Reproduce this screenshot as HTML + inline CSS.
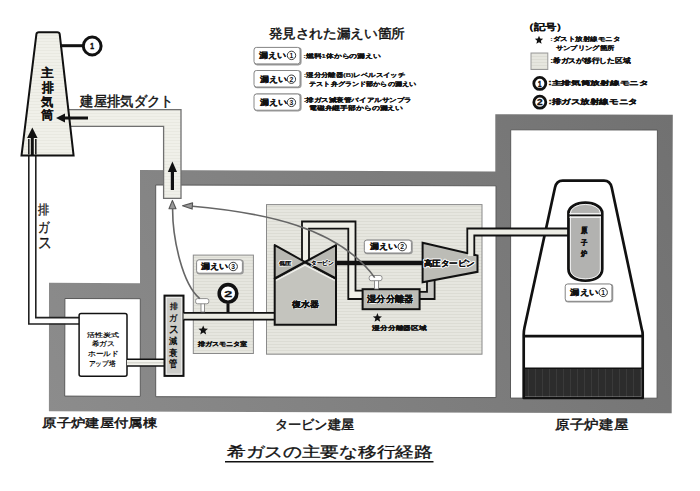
<!DOCTYPE html>
<html lang="ja">
<head>
<meta charset="utf-8">
<style>
html,body{margin:0;padding:0;background:#fff;}
body{width:700px;height:491px;overflow:hidden;position:relative;font-family:"Liberation Sans",sans-serif;}
svg{position:absolute;left:0;top:0;}
svg text{font-family:"Liberation Sans",sans-serif;fill:#111;}
</style>
</head>
<body>
<svg width="700" height="491" viewBox="0 0 700 491">
<defs>
  <linearGradient id="wg" gradientUnits="userSpaceOnUse" x1="672" y1="115" x2="49" y2="412">
    <stop offset="0" stop-color="#717171"/>
    <stop offset="1" stop-color="#8c8c8c"/>
  </linearGradient>
  <pattern id="hl" width="4" height="3" patternUnits="userSpaceOnUse">
    <rect width="4" height="3" fill="#e6e6df"/>
    <rect y="2" width="4" height="1" fill="#dcdcd4"/>
  </pattern>
  <pattern id="hl2" width="4" height="3" patternUnits="userSpaceOnUse">
    <rect width="4" height="3" fill="#f0f0e9"/>
    <rect y="2" width="4" height="1" fill="#e9e9e1"/>
  </pattern>
  <pattern id="dk" width="7" height="4" patternUnits="userSpaceOnUse">
    <rect width="7" height="4" fill="#2c2c2c"/>
    <rect x="3" width="1" height="4" fill="#3a3a3a"/>
  </pattern>
</defs>

<!-- ===== building walls ===== -->
<path d="M49 282.8 L140 283.2 L140 170 L495.3 171.6 L495.3 114.3 L672.8 114.8 L671.7 413.3 L48.9 411.3 Z" fill="url(#wg)"/>
<g fill="#fff" stroke="#5a5a5a" stroke-width="1">
  <path d="M64.9 298.5 L140.3 298.7 L140.3 396.4 L64.7 396.1 Z"/>
  <path d="M155.7 185 L496 185.8 L496 397.6 L155.7 396.7 Z"/>
  <path d="M510.7 129.8 L657.4 130 L657.1 398.2 L510.5 398.1 Z"/>
</g>

<!-- ===== duct ===== -->
<path d="M66 109.7 H181 V198.3 H163.6 V126.4 H66 Z" fill="url(#hl2)" stroke="#707070" stroke-width="1.3"/>

<!-- ===== exhaust pipe (排ガス) ===== -->
<rect x="29" y="317.5" width="50.5" height="6.2" fill="#fff"/>
<path d="M28.8 139 V324 H79.5" fill="none" stroke="#222" stroke-width="1.6"/>
<path d="M35.8 139 V317.6 H79.5" fill="none" stroke="#222" stroke-width="1.6"/>

<!-- ===== chimney ===== -->
<path d="M21.5 155.6 L36.4 34.2 Q36.7 32.2 38.9 32.2 L57.3 32.2 Q59.4 32.2 59.7 34.2 L73.6 155.6 Z" fill="url(#hl2)" stroke="#111" stroke-width="2"/>
<path d="M28.8 139 V154.5 M35.8 139 V154.5" stroke="#222" stroke-width="1.6"/>
<line x1="60" y1="45.7" x2="83" y2="45.7" stroke="#111" stroke-width="3"/>
<circle cx="92.2" cy="46" r="8.9" fill="#fff" stroke="#111" stroke-width="3"/>

<!-- left arrow into chimney -->
<line x1="88" y1="118" x2="62" y2="118" stroke="#111" stroke-width="3"/>
<path d="M56 118 L65 113.5 L65 122.5 Z" fill="#111"/>
<!-- up arrow in duct -->
<line x1="172.4" y1="190" x2="172.4" y2="168" stroke="#111" stroke-width="3.2"/>
<path d="M172.4 161.5 L177 172 L167.8 172 Z" fill="#111"/>
<!-- up arrow in chimney -->
<line x1="32.3" y1="156" x2="32.3" y2="135" stroke="#111" stroke-width="3"/>
<path d="M32.3 127.5 L37.6 138 L27.1 138 Z" fill="#111"/>

<!-- ===== aux building contents ===== -->
<rect x="79.1" y="313.6" width="47.9" height="62.6" rx="2" fill="#fff" stroke="#111" stroke-width="1.5"/>
<!-- pipe holdup -> decay -->
<rect x="127" y="359.3" width="38" height="6.8" fill="#f4f4ee"/>
<line x1="127" y1="362.7" x2="165" y2="362.7" stroke="#d8d8d0" stroke-width="1.5"/>
<line x1="127" y1="359.3" x2="165" y2="359.3" stroke="#111" stroke-width="1.5"/>
<line x1="127" y1="366.1" x2="165" y2="366.1" stroke="#111" stroke-width="1.5"/>

<!-- decay tube -->
<rect x="164.5" y="295.6" width="19" height="80.3" fill="#cdcdc9" stroke="#111" stroke-width="2"/>
<rect x="166.3" y="297.4" width="15.4" height="76.7" fill="none" stroke="#f4f4f4" stroke-width="0.8"/>

<!-- ===== off-gas monitor room ===== -->
<rect x="193.3" y="255.1" width="60.1" height="98.4" fill="url(#hl)" stroke="#8a8a8a" stroke-width="1"/>
<rect x="197.2" y="260.3" width="45.8" height="13.4" rx="2.5" fill="none" stroke="#9a9a9a" stroke-width="1.6"/><rect x="196.6" y="259.8" width="45.8" height="13.4" rx="2.5" fill="#fff" stroke="#888" stroke-width="1"/>

<!-- ===== big light gray area in turbine building ===== -->
<rect x="266.5" y="204.6" width="215.5" height="149.6" fill="url(#hl)" stroke="#8a8a8a" stroke-width="1"/>

<!-- pipe decay -> condenser -->
<rect x="183.5" y="312.9" width="91.2" height="6.7" fill="#ecece4"/>
<line x1="183.5" y1="312.9" x2="274.7" y2="312.9" stroke="#111" stroke-width="1.6"/>
<line x1="183.5" y1="319.6" x2="274.7" y2="319.6" stroke="#111" stroke-width="1.6"/>

<!-- monitor ② -->
<line x1="228" y1="302" x2="228" y2="312.5" stroke="#111" stroke-width="3"/>
<circle cx="228" cy="293.4" r="10.4" fill="#fff"/>
<circle cx="228" cy="293.4" r="8.8" fill="#fff" stroke="#111" stroke-width="3.6"/>
<!-- valve (off-gas) -->
<rect x="201" y="303" width="3.6" height="9" fill="#fff" stroke="#777" stroke-width="0.8"/>
<rect x="195.6" y="298.6" width="13.2" height="5.2" rx="2" fill="#fff" stroke="#777" stroke-width="0.8"/>

<!-- ===== pipe loop LP -> separator ===== -->
<path d="M305.5 262 V225 H352 V295 H363" fill="none" stroke="#efefe8" stroke-width="6"/>
<path d="M302 262 V221.5 H355.5 V290.6 H363" fill="none" stroke="#111" stroke-width="1.8"/>
<path d="M309 262 V228.6 H348.3 V299 H363" fill="none" stroke="#111" stroke-width="1.8"/>

<!-- pipe separator -> HP -->
<path d="M419 295.5 H430.8 V280" fill="none" stroke="#c8c8c4" stroke-width="6"/>
<path d="M419 291.9 H427 V281" fill="none" stroke="#111" stroke-width="1.8"/>
<path d="M419 299 H434.6 V280" fill="none" stroke="#111" stroke-width="1.8"/>


<!-- shaft -->
<line x1="335" y1="262.9" x2="423" y2="262.9" stroke="#111" stroke-width="4.5"/>

<!-- LP turbine + condenser -->
<path d="M274.7 278.5 L305 262 L336 278.5 L336 324.7 L274.7 324.7 Z" fill="#c4c4be" stroke="#111" stroke-width="2"/>
<path d="M274.7 245.1 L305 262 L274.7 278.5 Z" fill="#b8b8b2" stroke="#111" stroke-width="2" stroke-linejoin="round"/>
<path d="M336 245.1 L305 262 L336 278.5 Z" fill="#b8b8b2" stroke="#111" stroke-width="2" stroke-linejoin="round"/>
<path d="M276 280.6 L305 265.2 L334.8 280.6" fill="none" stroke="#f4f4f0" stroke-width="1.1"/>

<!-- moisture separator -->
<rect x="362.6" y="289.2" width="57" height="20" fill="#bcbcb6" stroke="#111" stroke-width="2"/>
<!-- valve (separator) -->
<rect x="374.6" y="280" width="3.8" height="9" fill="#fff" stroke="#777" stroke-width="0.8"/>
<rect x="369.2" y="275.5" width="12.8" height="5.2" rx="2" fill="#fff" stroke="#777" stroke-width="0.8"/>

<!-- 漏えい② label -->
<rect x="364.9" y="240.6" width="47.1" height="12.9" rx="2.5" fill="none" stroke="#9a9a9a" stroke-width="1.6"/><rect x="364.3" y="240.1" width="47.1" height="12.9" rx="2.5" fill="#fff" stroke="#888" stroke-width="1"/>

<!-- HP turbine -->
<path d="M422.6 242.8 L477.5 255.5 L477.5 271.8 L422.6 282.2 Z" fill="#bcbcb6" stroke="#111" stroke-width="2"/>

<!-- ===== reactor building ===== -->
<path d="M523.7 398 V335 Q523.7 331 524.5 327.5 L555 187.5 Q556.5 180.6 562.7 180.6 L604 180.6 Q610.2 180.6 611.7 187.5 L641.8 329.2 Q642.7 331.5 642.7 335 V398 Z" fill="#fff" stroke="#111" stroke-width="2.7" stroke-linejoin="round"/>
<rect x="525" y="368.3" width="116.4" height="28.4" fill="url(#dk)"/>
<line x1="523.7" y1="336.1" x2="642.7" y2="336.1" stroke="#111" stroke-width="2.8"/>
<line x1="524" y1="368.3" x2="642.5" y2="368.3" stroke="#111" stroke-width="1.5"/>
<!-- pipe HP -> reactor -->
<path d="M470.8 256 V232 H568" fill="none" stroke="#ecece4" stroke-width="6"/>
<path d="M467.3 254 V228.5 H568" fill="none" stroke="#111" stroke-width="1.8"/>
<path d="M474.3 256 V235.5 H568" fill="none" stroke="#111" stroke-width="1.8"/>
<!-- reactor vessel -->
<path d="M568.5 269 V213 A16.85 10.3 0 0 1 602.2 213 V269 C602.2 276 596 280.6 585.35 280.6 C574.7 280.6 568.5 276 568.5 269 Z" fill="#b2b2b0" stroke="#111" stroke-width="2.8"/>
<path d="M570.4 269 V213 A14.95 8.6 0 0 1 600.3 213 V269 C600.3 274.8 595 278.8 585.35 278.8 C575.7 278.8 570.4 274.8 570.4 269 Z" fill="none" stroke="#f2f2f2" stroke-width="1"/>
<line x1="569.5" y1="213.6" x2="601" y2="213.6" stroke="#f2f2f2" stroke-width="1.3"/>
<line x1="569.5" y1="215.4" x2="601" y2="215.4" stroke="#111" stroke-width="1.6"/>
<line x1="569.5" y1="217.3" x2="601" y2="217.3" stroke="#f2f2f2" stroke-width="1.3"/>
<rect x="565.8" y="284.5" width="46.7" height="17.3" rx="2.5" fill="none" stroke="#9a9a9a" stroke-width="1.6"/><rect x="565.2" y="284" width="46.7" height="17.3" rx="2.5" fill="#fff" stroke="#888" stroke-width="1"/>

<!-- ===== gray curved arrows ===== -->
<path d="M374.7 277.6 C338.7 227.3 263.1 212.3 190 206" fill="none" stroke="#666" stroke-width="1.6"/>
<path d="M182.5 205.7 L192.6 202.9 L192.1 209.1 Z" fill="#999" stroke="#555" stroke-width="1.1" stroke-linejoin="round"/>
<path d="M199.8 298.6 C182.5 284.3 172.6 239.1 172.6 209" fill="none" stroke="#666" stroke-width="1.6"/>
<path d="M172.4 200.4 L176 208.8 L169 208.8 Z" fill="#999" stroke="#555" stroke-width="1.1" stroke-linejoin="round"/>

<!-- ===== legend top center ===== -->
<g fill="none" stroke="#9a9a9a" stroke-width="1.6">
  <rect x="254.8" y="48.1" width="46" height="16.5" rx="2.5"/>
  <rect x="254.8" y="71" width="46" height="16.5" rx="2.5"/>
  <rect x="254.8" y="94.4" width="46" height="16.2" rx="2.5"/>
</g>
<g fill="#fff" stroke="#888" stroke-width="1">
  <rect x="254" y="47.4" width="46" height="16.5" rx="2.5"/>
  <rect x="254" y="70.5" width="46" height="16.5" rx="2.5"/>
  <rect x="254" y="94" width="46" height="16.2" rx="2.5"/>
</g>

<!-- ===== legend top right ===== -->
<rect x="531" y="53" width="16.8" height="16.5" fill="url(#hl)" stroke="#999" stroke-width="1"/>
<circle cx="539.8" cy="83.4" r="6" fill="#fff" stroke="#111" stroke-width="2.8"/>
<circle cx="539.8" cy="102.2" r="6" fill="#fff" stroke="#111" stroke-width="2.8"/>

<!-- underline -->
<line x1="225" y1="461.8" x2="433.5" y2="461.8" stroke="#111" stroke-width="1.4"/>

<polygon points="539.00,35.80 540.18,38.58 543.18,38.84 540.90,40.82 541.59,43.76 539.00,42.20 536.41,43.76 537.10,40.82 534.82,38.84 537.82,38.58" fill="#111"/>
<polygon points="203.20,325.40 204.49,328.62 207.96,328.85 205.29,331.08 206.14,334.45 203.20,332.60 200.26,334.45 201.11,331.08 198.44,328.85 201.91,328.62" fill="#111"/>
<polygon points="377.40,313.10 378.63,316.20 381.97,316.42 379.40,318.55 380.22,321.78 377.40,320.00 374.58,321.78 375.40,318.55 372.83,316.42 376.17,316.20" fill="#111"/>
<circle cx="291.5" cy="55.4" r="4.2" fill="none" stroke="#222" stroke-width="0.9"/>
<text x="291.5" y="57.85" font-size="6.8" font-weight="bold" text-anchor="middle">1</text>
<circle cx="291.4" cy="79.2" r="4.2" fill="none" stroke="#222" stroke-width="0.9"/>
<text x="291.4" y="81.65" font-size="6.8" font-weight="bold" text-anchor="middle">2</text>
<circle cx="291.4" cy="102.4" r="4.2" fill="none" stroke="#222" stroke-width="0.9"/>
<text x="291.4" y="104.85" font-size="6.8" font-weight="bold" text-anchor="middle">3</text>
<circle cx="233.2" cy="266.5" r="4.2" fill="none" stroke="#222" stroke-width="0.9"/>
<text x="233.2" y="268.95" font-size="6.8" font-weight="bold" text-anchor="middle">3</text>
<circle cx="402.2" cy="246.6" r="4.2" fill="none" stroke="#222" stroke-width="0.9"/>
<text x="402.2" y="249.05" font-size="6.8" font-weight="bold" text-anchor="middle">2</text>
<circle cx="603.2" cy="292.4" r="4.2" fill="none" stroke="#222" stroke-width="0.9"/>
<text x="603.2" y="294.85" font-size="6.8" font-weight="bold" text-anchor="middle">1</text>
<text x="80.45" y="105.76" font-size="13.68" textLength="93.15" lengthAdjust="spacingAndGlyphs" stroke="#111" stroke-width="0.45">建屋排気ダクト</text>
<text x="268.60" y="37.80" font-size="12.61" textLength="136.16" lengthAdjust="spacingAndGlyphs" stroke="#111" stroke-width="0.45">発見された漏えい箇所</text>
<text x="258.99" y="58.07" font-size="7.75" font-weight="bold" textLength="27.22" lengthAdjust="spacingAndGlyphs" stroke="#111" stroke-width="0.15">漏えい</text>
<text x="259.63" y="81.74" font-size="7.83" font-weight="bold" textLength="27.04" lengthAdjust="spacingAndGlyphs" stroke="#111" stroke-width="0.15">漏えい</text>
<text x="259.63" y="104.79" font-size="7.83" font-weight="bold" textLength="27.04" lengthAdjust="spacingAndGlyphs" stroke="#111" stroke-width="0.15">漏えい</text>
<text x="303.37" y="58.12" font-size="5.88" font-weight="bold" textLength="77.40" lengthAdjust="spacingAndGlyphs" stroke="#111" stroke-width="0.15">:燃料1体からの漏えい</text>
<text x="303.73" y="76.93" font-size="5.85" font-weight="bold" textLength="101.59" lengthAdjust="spacingAndGlyphs" stroke="#111" stroke-width="0.15">:湿分分離器(B)レベルスイッチ</text>
<text x="309.15" y="86.37" font-size="6.20" font-weight="bold" textLength="106.95" lengthAdjust="spacingAndGlyphs" stroke="#111" stroke-width="0.15">テスト弁グランド部からの漏えい</text>
<text x="303.69" y="101.81" font-size="6.35" font-weight="bold" textLength="108.01" lengthAdjust="spacingAndGlyphs" stroke="#111" stroke-width="0.15">:排ガス減衰管バイアルサンプラ</text>
<text x="308.93" y="109.63" font-size="6.02" font-weight="bold" textLength="94.24" lengthAdjust="spacingAndGlyphs" stroke="#111" stroke-width="0.15">電磁弁継手部からの漏えい</text>
<text x="522.50" y="29.55" font-size="8.92" font-weight="bold" textLength="45.31" lengthAdjust="spacingAndGlyphs" stroke="#111" stroke-width="0.2">（記号）</text>
<text x="550.22" y="41.05" font-size="5.82" font-weight="bold" textLength="70.35" lengthAdjust="spacingAndGlyphs" stroke="#111" stroke-width="0.15">:ダスト放射線モニタ</text>
<text x="555.92" y="50.17" font-size="6.05" font-weight="bold" textLength="58.25" lengthAdjust="spacingAndGlyphs" stroke="#111" stroke-width="0.15">サンプリング箇所</text>
<text x="550.15" y="63.49" font-size="7.39" font-weight="bold" textLength="80.36" lengthAdjust="spacingAndGlyphs" stroke="#111" stroke-width="0.15">:希ガスが移行した区域</text>
<text x="548.28" y="85.16" font-size="6.42" font-weight="bold" textLength="100.34" lengthAdjust="spacingAndGlyphs" stroke="#111" stroke-width="0.3">:主排気筒放射線モニタ</text>
<text x="548.51" y="103.52" font-size="7.02" font-weight="bold" textLength="89.23" lengthAdjust="spacingAndGlyphs" stroke="#111" stroke-width="0.3">:排ガス放射線モニタ</text>
<text x="42.26" y="427.25" font-size="11.63" textLength="114.89" lengthAdjust="spacingAndGlyphs" stroke="#111" stroke-width="0.45">原子炉建屋付属棟</text>
<text x="274.61" y="428.60" font-size="12.62" textLength="79.48" lengthAdjust="spacingAndGlyphs" stroke="#111" stroke-width="0.45">タービン建屋</text>
<text x="555.36" y="428.85" font-size="12.63" textLength="72.73" lengthAdjust="spacingAndGlyphs" stroke="#111" stroke-width="0.45">原子炉建屋</text>
<text x="226.85" y="457.39" font-size="15.28" textLength="205.96" lengthAdjust="spacingAndGlyphs" stroke="#111" stroke-width="0.35">希ガスの主要な移行経路</text>
<text x="87.07" y="336.62" font-size="6.49" font-weight="bold" textLength="31.95" lengthAdjust="spacingAndGlyphs">活性炭式</text>
<text x="91.76" y="346.22" font-size="6.59" font-weight="bold" textLength="23.24" lengthAdjust="spacingAndGlyphs">希ガス</text>
<text x="88.07" y="355.90" font-size="7.26" font-weight="bold" textLength="30.80" lengthAdjust="spacingAndGlyphs">ホールド</text>
<text x="88.55" y="365.71" font-size="6.77" font-weight="bold" textLength="27.00" lengthAdjust="spacingAndGlyphs">アップ塔</text>
<text x="201.29" y="269.10" font-size="7.88" font-weight="bold" textLength="27.21" lengthAdjust="spacingAndGlyphs" stroke="#111" stroke-width="0.15">漏えい</text>
<text x="197.59" y="346.46" font-size="6.35" font-weight="bold" textLength="49.86" lengthAdjust="spacingAndGlyphs" stroke="#111" stroke-width="0.2">排ガスモニタ室</text>
<text x="279.21" y="264.51" font-size="5.19" font-weight="bold" textLength="12.44" lengthAdjust="spacingAndGlyphs" stroke="#fff" stroke-width="1.6" stroke-linejoin="round" style="fill:#fff">低圧</text>
<text x="279.21" y="264.51" font-size="5.19" font-weight="bold" textLength="12.44" lengthAdjust="spacingAndGlyphs" stroke="#111" stroke-width="0.1">低圧</text>
<text x="310.98" y="264.65" font-size="5.51" font-weight="bold" textLength="22.35" lengthAdjust="spacingAndGlyphs" stroke="#fff" stroke-width="1.6" stroke-linejoin="round" style="fill:#fff">タービン</text>
<text x="310.98" y="264.65" font-size="5.51" font-weight="bold" textLength="22.35" lengthAdjust="spacingAndGlyphs" stroke="#111" stroke-width="0.1">タービン</text>
<text x="291.57" y="306.53" font-size="8.19" font-weight="bold" textLength="27.21" lengthAdjust="spacingAndGlyphs" stroke="#fff" stroke-width="1.4" stroke-linejoin="round" style="fill:#fff">復水器</text>
<text x="291.57" y="306.53" font-size="8.19" font-weight="bold" textLength="27.21" lengthAdjust="spacingAndGlyphs" stroke="#111" stroke-width="0.35">復水器</text>
<text x="367.07" y="301.52" font-size="9.34" font-weight="bold" textLength="46.15" lengthAdjust="spacingAndGlyphs" stroke="#fff" stroke-width="1.4" stroke-linejoin="round" style="fill:#fff">湿分分離器</text>
<text x="367.07" y="301.52" font-size="9.34" font-weight="bold" textLength="46.15" lengthAdjust="spacingAndGlyphs" stroke="#111" stroke-width="0.35">湿分分離器</text>
<text x="372.51" y="330.09" font-size="6.34" font-weight="bold" textLength="54.04" lengthAdjust="spacingAndGlyphs" stroke="#111" stroke-width="0.2">湿分分離器区域</text>
<text x="370.37" y="249.11" font-size="7.87" font-weight="bold" textLength="27.05" lengthAdjust="spacingAndGlyphs" stroke="#111" stroke-width="0.15">漏えい</text>
<text x="423.84" y="265.95" font-size="7.90" font-weight="bold" textLength="51.16" lengthAdjust="spacingAndGlyphs" stroke="#fff" stroke-width="2.2" stroke-linejoin="round" style="fill:#fff">高圧タービン</text>
<text x="423.84" y="265.95" font-size="7.90" font-weight="bold" textLength="51.16" lengthAdjust="spacingAndGlyphs" stroke="#111" stroke-width="0.3">高圧タービン</text>
<text x="570.34" y="294.87" font-size="7.64" font-weight="bold" textLength="28.07" lengthAdjust="spacingAndGlyphs" stroke="#111" stroke-width="0.15">漏えい</text>
<text x="41.28" y="76.63" font-size="11.85" font-weight="bold" textLength="12.64" lengthAdjust="spacingAndGlyphs" stroke="#111" stroke-width="0.1">主</text>
<text x="41.67" y="91.94" font-size="12.96" font-weight="bold" textLength="11.86" lengthAdjust="spacingAndGlyphs" stroke="#111" stroke-width="0.1">排</text>
<text x="41.49" y="105.59" font-size="12.30" font-weight="bold" textLength="12.21" lengthAdjust="spacingAndGlyphs" stroke="#111" stroke-width="0.1">気</text>
<text x="41.27" y="119.40" font-size="11.61" font-weight="bold" textLength="12.66" lengthAdjust="spacingAndGlyphs" stroke="#111" stroke-width="0.1">筒</text>
<text x="38.33" y="213.54" font-size="13.46" textLength="11.19" lengthAdjust="spacingAndGlyphs" stroke="#111" stroke-width="0.3">排</text>
<text x="37.53" y="232.04" font-size="13.94" textLength="11.44" lengthAdjust="spacingAndGlyphs" stroke="#111" stroke-width="0.3">ガ</text>
<text x="37.57" y="248.28" font-size="16.46" textLength="13.86" lengthAdjust="spacingAndGlyphs" stroke="#111" stroke-width="0.3">ス</text>
<text x="169.62" y="308.91" font-size="8.13" font-weight="bold" textLength="8.01" lengthAdjust="spacingAndGlyphs">排</text>
<text x="168.87" y="321.08" font-size="9.24" font-weight="bold" textLength="8.26" lengthAdjust="spacingAndGlyphs">ガ</text>
<text x="168.87" y="333.13" font-size="11.08" font-weight="bold" textLength="9.76" lengthAdjust="spacingAndGlyphs">ス</text>
<text x="169.36" y="343.83" font-size="8.50" font-weight="bold" textLength="8.28" lengthAdjust="spacingAndGlyphs">減</text>
<text x="169.31" y="355.64" font-size="9.00" font-weight="bold" textLength="8.37" lengthAdjust="spacingAndGlyphs">衰</text>
<text x="169.26" y="367.21" font-size="10.44" font-weight="bold" textLength="8.23" lengthAdjust="spacingAndGlyphs">管</text>
<text x="580.84" y="233.44" font-size="7.75" font-weight="bold" textLength="6.47" lengthAdjust="spacingAndGlyphs" stroke="#111" stroke-width="0.35">原</text>
<text x="580.64" y="245.09" font-size="7.21" font-weight="bold" textLength="6.37" lengthAdjust="spacingAndGlyphs" stroke="#111" stroke-width="0.35">子</text>
<text x="580.84" y="255.94" font-size="7.28" font-weight="bold" textLength="6.22" lengthAdjust="spacingAndGlyphs" stroke="#111" stroke-width="0.35">炉</text>
<text x="90.28" y="48.98" font-size="9.59" font-weight="bold" textLength="3.75" lengthAdjust="spacingAndGlyphs" stroke="#111" stroke-width="0.5">1</text>
<text x="224.35" y="296.93" font-size="9.74" font-weight="bold" textLength="7.96" lengthAdjust="spacingAndGlyphs" stroke="#111" stroke-width="0.3">2</text>
<text x="538.09" y="86.57" font-size="8.72" font-weight="bold" textLength="3.46" lengthAdjust="spacingAndGlyphs" stroke="#111" stroke-width="0.5">1</text>
<text x="537.11" y="105.05" font-size="8.38" font-weight="bold" textLength="5.63" lengthAdjust="spacingAndGlyphs" stroke="#111" stroke-width="0.3">2</text>
</svg>
</body>
</html>
